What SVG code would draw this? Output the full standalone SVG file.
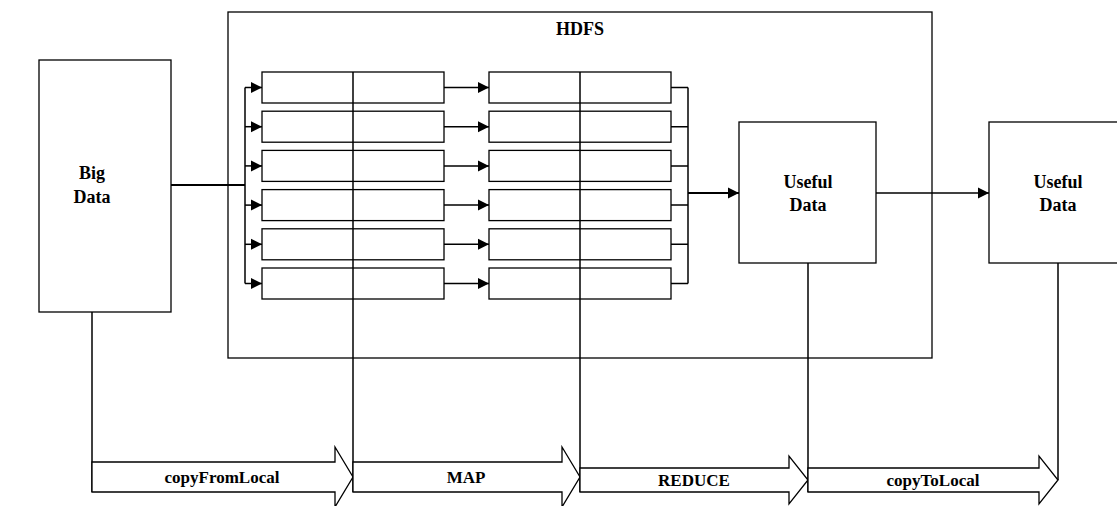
<svg xmlns="http://www.w3.org/2000/svg" width="1117" height="506" viewBox="0 0 1117 506">
<style>
.box{fill:#fff;stroke:#000;stroke-width:1.3}
.ln{fill:none;stroke:#000;stroke-width:1.5}
.thick{fill:none;stroke:#000;stroke-width:2.2}
.blk{fill:#fff;stroke:#000;stroke-width:1.3}
.lbl{font-family:"Liberation Serif","Times New Roman",serif;font-weight:bold;font-size:18px;text-anchor:middle;fill:#000}
.alb{font-family:"Liberation Serif","Times New Roman",serif;font-weight:bold;font-size:17px;text-anchor:middle;fill:#000}
</style>
<defs>
<marker id="ah" markerUnits="userSpaceOnUse" markerWidth="12" markerHeight="12" viewBox="0 0 12 12" refX="11" refY="6" orient="auto">
<path d="M0,0.5 L11,6 L0,11.5 Z" fill="#000"/>
</marker>
</defs>
<rect width="1117" height="506" fill="#fff"/>
<g id="hdfs">
<rect class="box" x="228" y="12" width="704" height="346"/>
<text class="lbl" x="580" y="35" font-size="16">HDFS</text>
</g>
<g id="big-data">
<rect class="box" x="39" y="60" width="132" height="252"/>
<text class="lbl" x="92" y="179">Big</text>
<text class="lbl" x="92" y="203">Data</text>
</g>
<g id="map-blocks">
<rect class="blk" x="262" y="72" width="182" height="31"/>
<rect class="blk" x="262" y="111.2" width="182" height="31"/>
<rect class="blk" x="262" y="150.4" width="182" height="31"/>
<rect class="blk" x="262" y="189.6" width="182" height="31"/>
<rect class="blk" x="262" y="228.8" width="182" height="31"/>
<rect class="blk" x="262" y="268" width="182" height="31"/>
</g>
<g id="reduce-blocks">
<rect class="blk" x="489" y="72" width="182" height="31"/>
<rect class="blk" x="489" y="111.2" width="182" height="31"/>
<rect class="blk" x="489" y="150.4" width="182" height="31"/>
<rect class="blk" x="489" y="189.6" width="182" height="31"/>
<rect class="blk" x="489" y="228.8" width="182" height="31"/>
<rect class="blk" x="489" y="268" width="182" height="31"/>
</g>
<g id="useful-data-1">
<rect class="box" x="739" y="122" width="137" height="141"/>
<text class="lbl" x="808" y="188">Useful</text>
<text class="lbl" x="808" y="211">Data</text>
</g>
<g id="useful-data-2">
<rect class="box" x="989" y="122" width="138" height="141"/>
<text class="lbl" x="1058" y="188">Useful</text>
<text class="lbl" x="1058" y="211">Data</text>
</g>
<g id="connectors">
<path class="thick" d="M171,185 H245"/>
<path class="ln" d="M245,87.5 V283.5" stroke-width="2"/>
<path class="ln" d="M245,87.5 H262" marker-end="url(#ah)"/>
<path class="ln" d="M245,126.7 H262" marker-end="url(#ah)"/>
<path class="ln" d="M245,165.9 H262" marker-end="url(#ah)"/>
<path class="ln" d="M245,205.1 H262" marker-end="url(#ah)"/>
<path class="ln" d="M245,244.3 H262" marker-end="url(#ah)"/>
<path class="ln" d="M245,283.5 H262" marker-end="url(#ah)"/>
<path class="ln" d="M444,87.5 H489" marker-end="url(#ah)"/>
<path class="ln" d="M444,126.7 H489" marker-end="url(#ah)"/>
<path class="ln" d="M444,165.9 H489" marker-end="url(#ah)"/>
<path class="ln" d="M444,205.1 H489" marker-end="url(#ah)"/>
<path class="ln" d="M444,244.3 H489" marker-end="url(#ah)"/>
<path class="ln" d="M444,283.5 H489" marker-end="url(#ah)"/>
<path class="ln" d="M671,87.5 H688 M671,126.7 H688 M671,165.9 H688 M671,205.1 H688 M671,244.3 H688 M671,283.5 H688"/>
<path class="ln" d="M688,87.5 V283.5" stroke-width="2"/>
<path class="thick" d="M688,193 H739" marker-end="url(#ah)"/>
<path class="ln" d="M876,193 H989" marker-end="url(#ah)"/>
<path class="ln" d="M92,312 V492"/>
<path class="ln" d="M353,72 V492"/>
<path class="ln" d="M580,72 V492"/>
<path class="ln" d="M808,263 V492"/>
<path class="ln" d="M1058,263 V480"/>
</g>
<g id="arrow-copyFromLocal">
<path class="box" d="M92,462 H335 V447 L353,477 L335,507 V492 H92 Z"/>
<text class="alb" x="222" y="483">copyFromLocal</text>
</g>
<g id="arrow-map">
<path class="box" d="M353,462 H562 V447 L580,477 L562,507 V492 H353 Z"/>
<text class="alb" x="466" y="483">MAP</text>
</g>
<g id="arrow-reduce">
<path class="box" d="M580,468 H789 V456 L808,480 L789,504 V492 H580 Z"/>
<text class="alb" x="694" y="486">REDUCE</text>
</g>
<g id="arrow-copyToLocal">
<path class="box" d="M808,468 H1039 V456 L1058,480 L1039,504 V492 H808 Z"/>
<text class="alb" x="933" y="486">copyToLocal</text>
</g>
</svg>
